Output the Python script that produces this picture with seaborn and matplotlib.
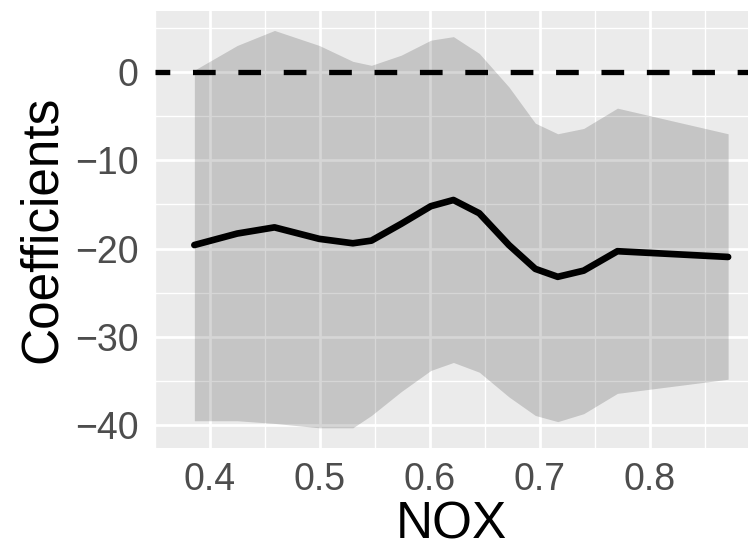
import numpy as np
import pandas as pd
import matplotlib
matplotlib.use("Agg")
import matplotlib.pyplot as plt
import seaborn as sns

# values
nox = [0.3858, 0.4248, 0.4587, 0.4994, 0.530, 0.5469, 0.574, 0.601,
       0.6215, 0.645, 0.672, 0.696, 0.7164, 0.740, 0.7707, 0.8714]
coef = [-19.6, -18.3, -17.6, -18.9, -19.4, -19.1, -17.2, -15.2,
        -14.5, -16.0, -19.6, -22.3, -23.2, -22.5, -20.3, -20.95]
upper = [0.2, 3.0, 4.7, 3.0, 1.2, 0.75, 1.9, 3.6,
         4.0, 2.1, -1.7, -5.8, -7.0, -6.4, -4.1, -7.0]
lower = [-39.5, -39.5, -39.8, -40.3, -40.3, -38.9, -36.2, -33.8,
         -32.9, -34.0, -36.8, -38.9, -39.6, -38.7, -36.4, -34.8]

x_ticks = [0.4, 0.5, 0.6, 0.7, 0.8]
y_ticks = [0, -10, -20, -30, -40]

df = pd.DataFrame({"NOX": nox, "Coefficients": coef})

sns.set_theme(style="darkgrid", rc={
    "axes.facecolor": "#EBEBEB",
    "grid.color": "white",
    "xtick.major.size": 5,
    "ytick.major.size": 5,
    "xtick.major.width": 1.1,
    "ytick.major.width": 1.1,
    "xtick.color": "#333333",
    "ytick.color": "#333333",
})
plt.rcParams["font.family"] = ["Liberation Sans", "DejaVu Sans"]

fig = plt.figure(figsize=(7.48, 5.5), dpi=100)
ax = fig.add_axes([155 / 748, 101.7 / 550, 593 / 748, 437.8 / 550])

# confidence ribbon
ax.fill_between(nox, lower, upper, color="black", alpha=0.16, lw=0, zorder=2)

# coefficient curve
sns.lineplot(data=df, x="NOX", y="Coefficients", color="black", lw=4.8,
             ax=ax, zorder=3)

# reference line at zero
ax.axhline(0, color="black", lw=3.8, ls=(1.5, (4.3, 4.3)), zorder=4)

ax.set_xlim(0.3608, 0.8895)
ax.set_ylim(-42.62, 6.96)
ax.set_xticks(x_ticks)
ax.set_yticks(y_ticks)
ax.set_xticks(np.arange(0.35, 0.90, 0.1), minor=True)
ax.set_yticks([5, -5, -15, -25, -35], minor=True)
ax.grid(which="major", color="white", lw=2.0)
ax.grid(which="minor", color="white", lw=1.0)
ax.tick_params(which="minor", length=0)
ax.tick_params(axis="both", which="major", labelsize=27, labelcolor="#4D4D4D")
ax.tick_params(axis="x", pad=5)
ax.tick_params(axis="y", pad=7)
ax.set_xticklabels([f"{t:.1f}" for t in x_ticks])

ax.set_xlabel("NOX", fontsize=37, color="black", labelpad=2)
ax.set_ylabel("Coefficients", fontsize=37, color="black", labelpad=6)
for s in ax.spines.values():
    s.set_visible(False)

fig.savefig("out.png", dpi=100)
